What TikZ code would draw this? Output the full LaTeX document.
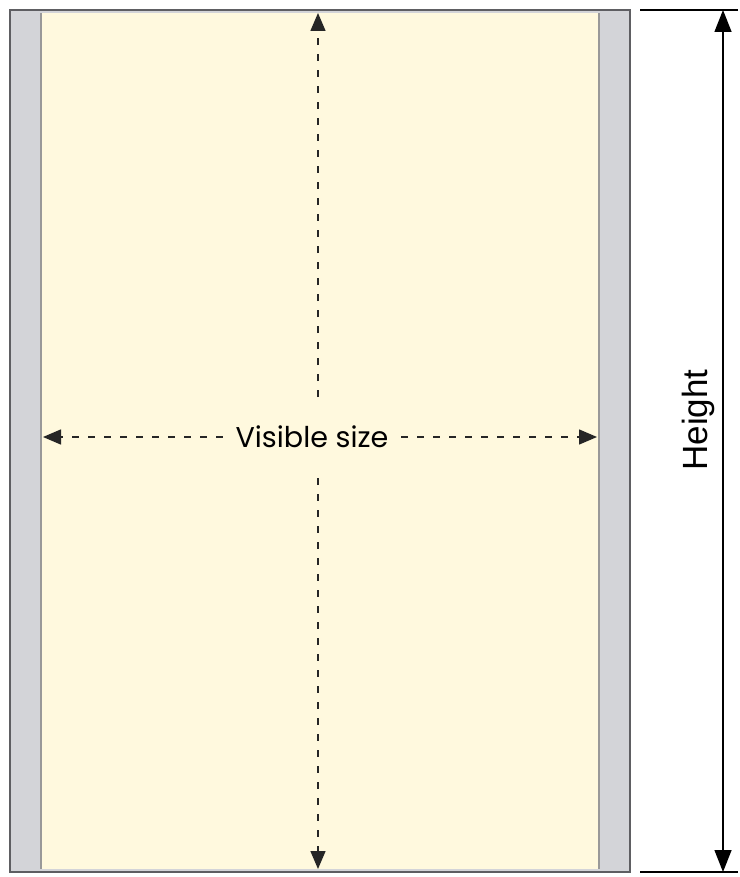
\documentclass[tikz,border=0pt]{standalone}
\usepackage{fontspec}
\newfontfamily\visfont{Poppins}
\newfontfamily\hgtfont{Liberation Sans}
\usetikzlibrary{arrows.meta, positioning}
\definecolor{paper}{HTML}{FFF9DE}
\definecolor{margin}{HTML}{D3D4D8}
\definecolor{frame}{HTML}{5E5E62}
\begin{document}
\begin{tikzpicture}[x=0.5pt, y=-0.5pt, >={Triangle[length=9pt,width=7.5pt]},
    dimline/.style={dash pattern=on 3.5pt off 4.5pt, line width=0.7pt, black!85}]
      \useasboundingbox (0,0) rectangle (739,877);

      % sheet with its two grey margins
      \fill[margin] (10,10) rectangle (630,872);
      \fill[paper] (41,13) rectangle (599,869);
      \draw[gray!80, line width=0.8pt] (41,13) -- (41,869);
      \draw[gray!80, line width=0.8pt] (599,13) -- (599,869);
      \draw[frame, line width=1pt] (10,10) rectangle (630,872);

      % visible size
      \node[font=\visfont\fontsize{14.3}{17}\selectfont] (vis) at (312,437) {Visible size};
      \coordinate (visL) at (43,437);
      \coordinate (visR) at (597,437);
      \draw[dimline, ->] (vis.west) ++(-6,0) -- (visL);
      \draw[dimline, ->] (vis.east) ++(6,0) -- (visR);

      \coordinate (visT) at (318,13);
      \coordinate (visB) at (318,869);
      \coordinate (gapT) at (318,397);
      \coordinate (gapB) at (318,478);
      \draw[dimline, ->] (gapT) -- (visT);
      \draw[dimline, ->] (gapB) -- (visB);

      % height
      \coordinate (hgtT) at (723,10);
      \coordinate (hgtB) at (723,872);
      \draw[line width=0.8pt] (640,10) -- (738,10);
      \draw[line width=0.8pt] (640,872) -- (738,872);
      \draw[line width=0.7pt, <->, >={Triangle[length=11pt,width=8.5pt]}] (hgtT) -- (hgtB);
      \node[rotate=90, font=\hgtfont\fontsize{17.5}{21}\selectfont] (hgt) at (698,420) {Height};
    \end{tikzpicture}
\end{document}
